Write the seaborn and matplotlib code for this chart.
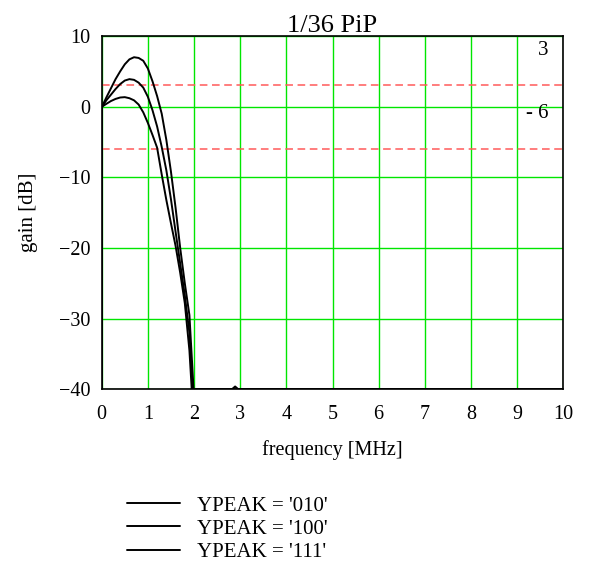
import numpy as np
import pandas as pd
import matplotlib
matplotlib.use("Agg")
import matplotlib.pyplot as plt
import seaborn as sns

# Data (frequency in MHz, gain in dB)
freq_010 = [0.0, 0.005, 0.1, 0.2, 0.3, 0.4, 0.5, 0.6, 0.7, 0.8, 0.9, 1.0, 1.1, 1.2,
            1.3, 1.4, 1.5, 1.6, 1.7, 1.8, 1.9, 1.99, 2.5, 2.82, 2.89, 2.96, 10.0]
gain_010 = [-40, 0.0, 1.3, 2.6, 3.9, 5.0, 6.0, 6.7, 7.0, 6.9, 6.5, 5.4, 3.6, 1.5,
            -1.0, -4.7, -9.2, -14.3, -20.0, -25.0, -29.5, -40, -40, -40, -39.6, -40, -40]

freq_100 = [0.0, 0.005, 0.1, 0.2, 0.3, 0.4, 0.5, 0.6, 0.7, 0.8, 0.9, 1.0, 1.1, 1.2,
            1.3, 1.4, 1.5, 1.6, 1.7, 1.8, 1.9, 1.97, 10.0]
gain_100 = [-40, 0.0, 0.9, 1.7, 2.5, 3.2, 3.7, 3.9, 3.8, 3.4, 2.7, 1.4, -0.5, -2.8,
            -5.7, -9.0, -13.1, -17.7, -22.2, -26.7, -32.0, -40, -40]

freq_111 = [0.0, 0.005, 0.1, 0.2, 0.3, 0.4, 0.5, 0.6, 0.7, 0.8, 0.9, 1.0, 1.1, 1.2,
            1.3, 1.4, 1.5, 1.6, 1.7, 1.8, 1.9, 1.95, 10.0]
gain_111 = [-40, 0.0, 0.4, 0.8, 1.1, 1.3, 1.35, 1.2, 0.9, 0.3, -0.8, -2.3, -4.0, -5.8,
            -9.6, -13.2, -16.5, -19.7, -23.5, -27.8, -34.5, -40, -40]

labels = ["YPEAK = '010'", "YPEAK = '100'", "YPEAK = '111'"]
markers_db = [3, -6]
marker_text = ["3", "- 6"]
marker_text_y = [7.9, -0.9]

frames = []
for lab, f, g in zip(labels, [freq_010, freq_100, freq_111], [gain_010, gain_100, gain_111]):
    frames.append(pd.DataFrame({"freq": f, "gain": g, "curve": lab}))
df = pd.concat(frames, ignore_index=True)

sns.set_style("white")
plt.rcParams["font.family"] = ["Liberation Serif", "DejaVu Serif"]
plt.rcParams["text.color"] = "black"
plt.rcParams["axes.labelcolor"] = "black"
plt.rcParams["xtick.color"] = "black"
plt.rcParams["ytick.color"] = "black"

fig = plt.figure(figsize=(5.9, 5.63), dpi=100)
ax = fig.add_axes([0.1724, 0.3085, 0.7824, 0.6275])

sns.lineplot(data=df, x="freq", y="gain", hue="curve", palette=["black"] * 3,
             estimator=None, sort=False, legend=False, linewidth=1.4, ax=ax)

for m, t, ty in zip(markers_db, marker_text, marker_text_y):
    ax.axhline(m, color="#ff5a5a", linestyle=(0, (5, 3)), linewidth=1.1, zorder=1)
    ax.text(9.68, ty, t, ha="right", va="center", fontsize=15)

ax.set_xlim(0, 10)
ax.set_ylim(-40, 10)
ax.set_xticks(range(0, 11))
ax.set_yticks(range(-40, 11, 10))
ax.set_yticklabels(["\u221240", "\u221230", "\u221220", "\u221210", "0", "10"])
ax.grid(True, color="#00e600", linewidth=1.0)
ax.set_axisbelow(True)
ax.tick_params(length=0, labelsize=14.5)
ax.tick_params(axis="y", pad=8)
ax.tick_params(axis="x", pad=11)
for s in ax.spines.values():
    s.set_color("black")
    s.set_linewidth(1.2)

ax.set_xlabel("frequency [MHz]", fontsize=14.5, labelpad=12)
ax.set_ylabel("gain [dB]", fontsize=15, labelpad=15)
ax.set_title("1/36 PiP", fontsize=19, pad=3)

handles = ax.get_lines()[:3]
fig.legend(handles, labels, loc="upper left", bbox_to_anchor=(127 / 590, 1 - 496 / 563),
           frameon=False, fontsize=15, handlelength=2.55, handletextpad=0.8,
           labelspacing=0.17, borderpad=0, borderaxespad=0)

fig.savefig("out.png", dpi=100)
